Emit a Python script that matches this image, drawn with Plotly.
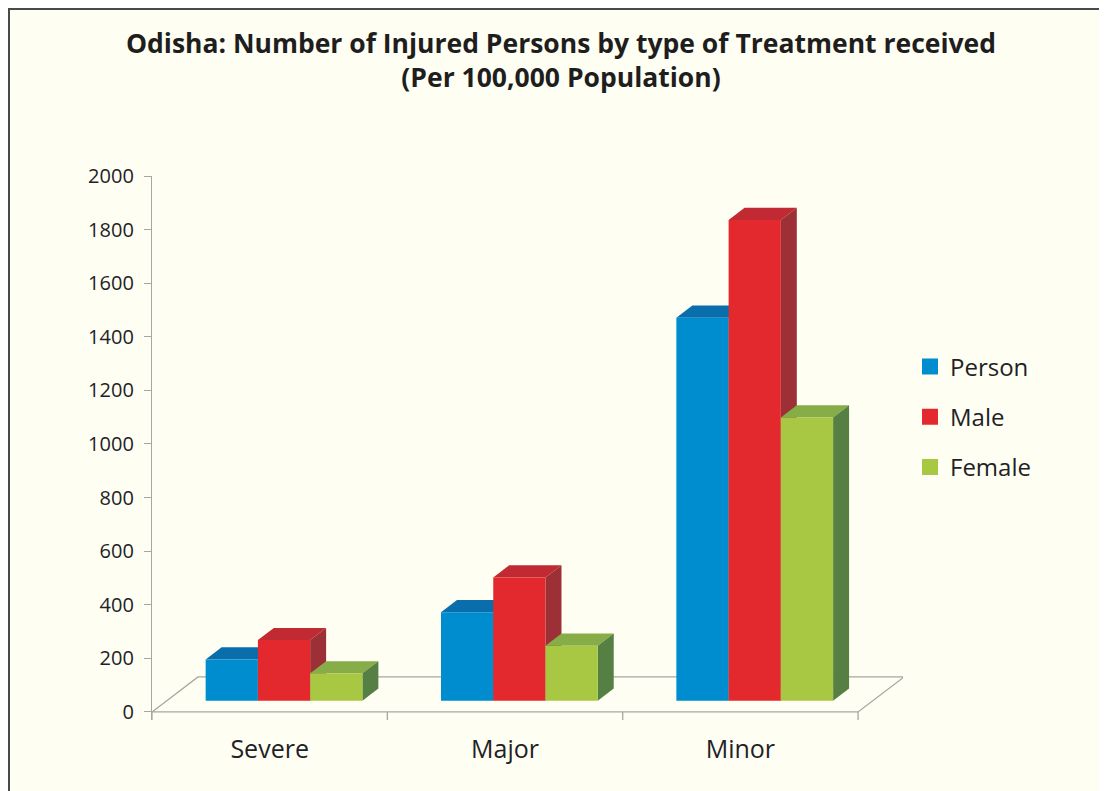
import plotly.graph_objects as go

categories = ["Severe", "Major", "Minor"]
series_names = ["Person", "Male", "Female"]
person = [154, 330, 1429]
male = [226, 460, 1794]
female = [102, 205, 1057]
y_ticks = list(range(0, 2001, 200))

front_colors = ["#008DCF", "#E3292D", "#A8C843"]
top_colors = ["#0A6EAD", "#C12A32", "#86AD48"]
side_colors = ["#07598C", "#9C3036", "#567F43"]

values = [person, male, female]

# 3D geometry (in data units)
DX = 0.1955      # floor depth along x (category units)
DY = 130.6       # floor depth along y (value units)
f0, f1 = 0.323, 0.67
W = 0.222
LEFT0 = -0.272
base = f0 * DY
ddx = (f1 - f0) * DX
ddy = (f1 - f0) * DY

# figure pixel layout
FW, FH = 1099, 783
L, R, T, B = 144, 204, 168, 71
PW = FW - L - R
PH = FH - T - B

fig = go.Figure()
shapes = []

# frame
shapes.append(dict(type="rect", xref="paper", yref="paper", layer="below",
                   x0=(1 - L) / PW, x1=1.4, y0=-0.3, y1=(FH - B - 1) / PH,
                   fillcolor="rgba(0,0,0,0)", line=dict(color="#4A4A4A", width=2)))

# floor
fx0, fx1 = -0.5, 2.5
shapes.append(dict(type="path", xref="x", yref="y", layer="below",
                   path=f"M {fx0},0 L {fx1},0 L {fx1+DX},{DY} L {fx0+DX},{DY} Z",
                   line=dict(color="#A6A6A6", width=1.3), fillcolor="rgba(0,0,0,0)"))
# x boundary ticks
for b in [-0.5, 0.5, 1.5, 2.5]:
    shapes.append(dict(type="line", xref="x", yref="y", layer="below",
                       x0=b, x1=b, y0=0, y1=-30, line=dict(color="#A6A6A6", width=1.3)))

for i in range(len(categories)):
    for j in range(len(series_names)):
        v = values[j][i]
        xl = i + LEFT0 + j * W
        xr = xl + W
        top = base + v
        shapes.append(dict(type="path", xref="x", yref="y", layer="below",
                           path=f"M {xl},{top} L {xr},{top} L {xr+ddx},{top+ddy} L {xl+ddx},{top+ddy} Z",
                           fillcolor=top_colors[j], line=dict(width=0)))
        shapes.append(dict(type="path", xref="x", yref="y", layer="below",
                           path=f"M {xr},{base} L {xr+ddx},{base+ddy} L {xr+ddx},{top+ddy} L {xr},{top} Z",
                           fillcolor=side_colors[j], line=dict(width=0)))

for j, name in enumerate(series_names):
    xs = [i + LEFT0 + j * W + W / 2 for i in range(len(categories))]
    fig.add_trace(go.Bar(
        x=xs, y=values[j], base=[base] * len(categories), width=W,
        name=name, marker=dict(color=front_colors[j], line=dict(width=0)),
        legendgroup=name, showlegend=False, hoverinfo="skip",
    ))

# legend entries (square swatches)
for j, name in enumerate(series_names):
    fig.add_trace(go.Scatter(
        x=[None], y=[None], mode="markers", name=name, legendgroup=name,
        marker=dict(symbol="square", size=16, color=front_colors[j], line=dict(width=0)),
    ))

fig.update_layout(
    width=FW, height=FH,
    paper_bgcolor="#FEFEF2", plot_bgcolor="rgba(0,0,0,0)",
    margin=dict(l=L, r=R, t=T, b=B),
    barmode="overlay",
    shapes=shapes,
    font=dict(family="Open Sans", color="#1E2226"),
    title=dict(text="<b>Odisha: Number of Injured Persons by type of Treatment received<br>(Per 100,000 Population)</b>",
               x=553 / FW, xanchor="center", xref="container",
               y=1 - 45 / FH, yanchor="top", yref="container",
               font=dict(family="Open Sans", size=26.5, color="#1E1E1E")),
    xaxis=dict(range=[-0.5, 2.691], tickvals=[0, 1, 2], ticktext=categories,
               showline=False, showgrid=False, zeroline=False, ticks="",
               tickfont=dict(size=25, color="#1E2226"), ticklabelstandoff=12, fixedrange=True),
    yaxis=dict(range=[-30, 2000], tickvals=y_ticks, showline=True, linecolor="#A6A6A6", linewidth=1.3,
               ticks="outside", ticklen=7, tickcolor="#A6A6A6", tickwidth=1.3,
               showgrid=False, zeroline=False, tickfont=dict(size=20, color="#1E2226"),
               ticklabelstandoff=6),
    legend=dict(x=(902 - L) / PW, xanchor="left", y=(FH - B - 409) / PH, yanchor="middle",
                font=dict(size=24, color="#1E2226"), tracegroupgap=16, bgcolor="rgba(0,0,0,0)"),
    showlegend=True,
)

fig.write_html("out.html")
